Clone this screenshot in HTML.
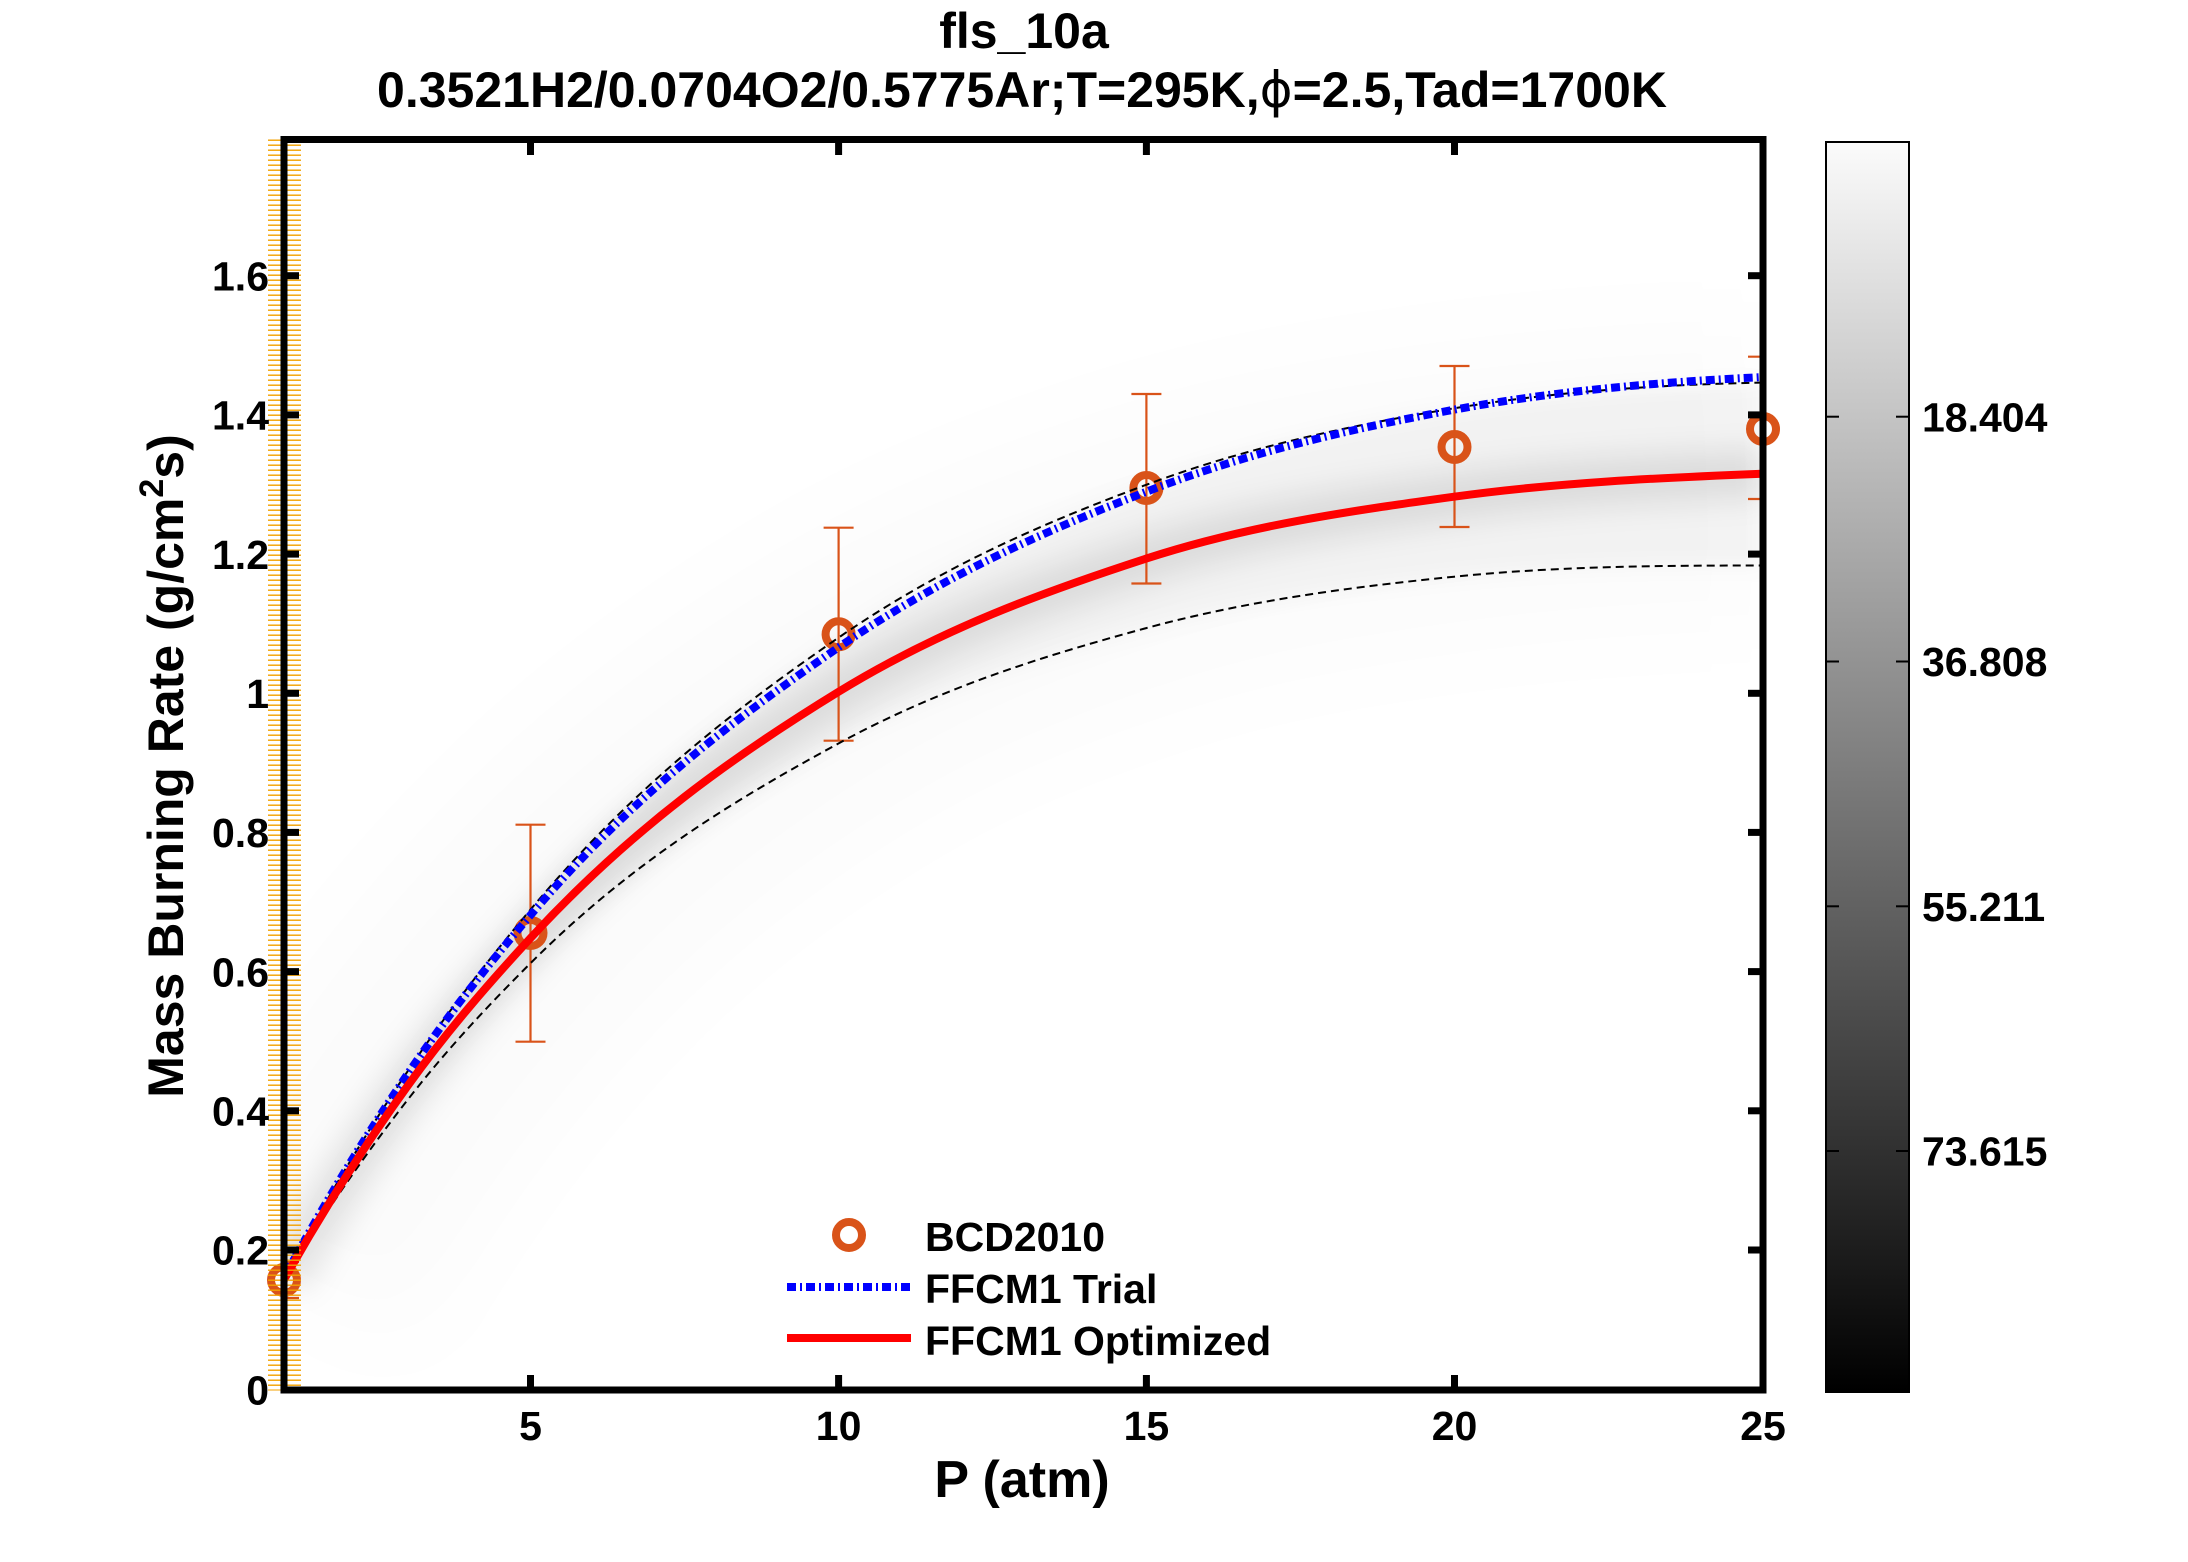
<!DOCTYPE html>
<html>
<head>
<meta charset="utf-8">
<style>
html,body{margin:0;padding:0;background:#fff;}
svg{display:block;}
text{font-family:"Liberation Sans",Arial,sans-serif;font-weight:bold;fill:#000;}
</style>
</head>
<body>
<svg width="2188" height="1562" viewBox="0 0 2188 1562" xmlns="http://www.w3.org/2000/svg">
<defs>
  <clipPath id="plot"><rect x="284" y="139.5" width="1479" height="1250.5"/></clipPath>
  <filter id="b50" filterUnits="userSpaceOnUse" x="0" y="0" width="2188" height="1562"><feGaussianBlur stdDeviation="50"/></filter>
  <filter id="b14" filterUnits="userSpaceOnUse" x="0" y="0" width="2188" height="1562"><feGaussianBlur stdDeviation="14"/></filter>
  <filter id="b10" filterUnits="userSpaceOnUse" x="0" y="0" width="2188" height="1562"><feGaussianBlur stdDeviation="10"/></filter>
  <linearGradient id="cbar" x1="0" y1="0" x2="0" y2="1">
    <stop offset="0" stop-color="#fbfbfb"/>
    <stop offset="1" stop-color="#000000"/>
  </linearGradient>
  <pattern id="hatch" x="0" y="139.5" width="40" height="5" patternUnits="userSpaceOnUse">
    <rect x="0" y="0" width="40" height="1.4" fill="#f3a100"/>
  </pattern>
</defs>

<rect x="0" y="0" width="2188" height="1562" fill="#fff"/>

<!-- Title -->
<text x="1024" y="48" font-size="50" text-anchor="middle">fls_10a</text>
<text x="1022" y="107" font-size="50" text-anchor="middle">0.3521H2/0.0704O2/0.5775Ar;T=295K,<tspan font-weight="normal" font-family="'DejaVu Sans','Liberation Sans',sans-serif">ϕ</tspan>=2.5,Tad=1700K</text>

<!-- Shading -->
<g clip-path="url(#plot)">
  <path d="M284,1279.8 C325.1,1206.7 366.1,1143.5 407.2,1086.5 C448.2,1029.6 489.3,982.8 530.3,938.3 C632.9,827.0 735.6,755 838.2,692 C940.9,629 1043.5,592.0 1146.2,558.6 C1248.8,525.2 1351.5,510.8 1454.1,496.7 C1556.7,482.6 1659.4,477.8 1762,473.7"
        fill="none" stroke="#000" stroke-opacity="0.016" stroke-width="280" filter="url(#b50)"/>
  <path d="M284,1277.7 C325.1,1200.4 366.1,1133.2 407.2,1071.9 C448.2,1010.6 489.3,958.7 530.3,909.8 C632.9,787.4 735.6,708.7 838.2,637.9 C940.9,567.1 1043.5,523.0 1146.2,484.8 C1248.8,446.6 1351.5,425.3 1454.1,408.3 C1556.7,391.3 1659.4,384.7 1762,382.6 L1762,565.5 C1659.4,565.5 1556.7,566.3 1454.1,576.7 C1351.5,587.1 1248.8,600.3 1146.2,628.1 C1043.5,655.9 940.9,687.7 838.2,743.6 C735.6,799.5 632.9,860.9 530.3,963.4 C489.3,1004.4 448.2,1047.7 407.2,1100.4 C366.1,1153.2 325.1,1211.7 284,1279.8 Z"
        fill="#000" fill-opacity="0.035" filter="url(#b10)"/>
  <path d="M284,1279.8 C325.1,1206.7 366.1,1143.5 407.2,1086.5 C448.2,1029.6 489.3,982.8 530.3,938.3 C632.9,827.0 735.6,755 838.2,692 C940.9,629 1043.5,592.0 1146.2,558.6 C1248.8,525.2 1351.5,510.8 1454.1,496.7 C1556.7,482.6 1659.4,477.8 1762,473.7"
        fill="none" stroke="#000" stroke-opacity="0.09" stroke-width="50" filter="url(#b14)"/>
</g>

<!-- Error bars (clipped) -->
<g clip-path="url(#plot)" stroke="#D95319" stroke-width="2.2" fill="none">
  <line x1="284" y1="1262" x2="284" y2="1298"/>
  <line x1="269" y1="1262" x2="299" y2="1262"/>
  <line x1="269" y1="1298" x2="299" y2="1298"/>

  <line x1="530.5" y1="824.7" x2="530.5" y2="1041.7"/>
  <line x1="515.5" y1="824.7" x2="545.5" y2="824.7"/>
  <line x1="515.5" y1="1041.7" x2="545.5" y2="1041.7"/>

  <line x1="838.6" y1="527.7" x2="838.6" y2="740.7"/>
  <line x1="823.6" y1="527.7" x2="853.6" y2="527.7"/>
  <line x1="823.6" y1="740.7" x2="853.6" y2="740.7"/>

  <line x1="1146.4" y1="394" x2="1146.4" y2="583.5"/>
  <line x1="1131.4" y1="394" x2="1161.4" y2="394"/>
  <line x1="1131.4" y1="583.5" x2="1161.4" y2="583.5"/>

  <line x1="1454.5" y1="366" x2="1454.5" y2="527"/>
  <line x1="1439.5" y1="366" x2="1469.5" y2="366"/>
  <line x1="1439.5" y1="527" x2="1469.5" y2="527"/>

  <line x1="1763" y1="356.7" x2="1763" y2="499"/>
  <line x1="1748" y1="356.7" x2="1778" y2="356.7"/>
  <line x1="1748" y1="499" x2="1778" y2="499"/>
</g>

<!-- Data markers -->
<g stroke="#D95319" stroke-width="8" fill="none">
  <circle cx="284" cy="1280" r="13"/>
  <circle cx="530.5" cy="933" r="13"/>
  <circle cx="838.6" cy="634.3" r="13"/>
  <circle cx="1146.4" cy="488" r="13"/>
  <circle cx="1454.5" cy="447" r="13"/>
  <circle cx="1763" cy="429" r="13"/>
</g>

<!-- Dashed bounds -->
<g fill="none" stroke="#000" stroke-width="2" stroke-dasharray="8 5">
  <path d="M284,1277.7 C325.1,1200.4 366.1,1133.2 407.2,1071.9 C448.2,1010.6 489.3,958.7 530.3,909.8 C632.9,787.4 735.6,708.7 838.2,637.9 C940.9,567.1 1043.5,523.0 1146.2,484.8 C1248.8,446.6 1351.5,425.3 1454.1,408.3 C1556.7,391.3 1659.4,384.7 1762,382.6"/>
  <path d="M284,1279.8 C325.1,1211.7 366.1,1153.2 407.2,1100.4 C448.2,1047.7 489.3,1004.4 530.3,963.4 C632.9,860.9 735.6,799.5 838.2,743.6 C940.9,687.7 1043.5,655.9 1146.2,628.1 C1248.8,600.3 1351.5,587.1 1454.1,576.7 C1556.7,566.3 1659.4,565.5 1762,565.5"/>
</g>

<!-- FFCM1 Trial (blue dash-dot) -->
<path d="M284,1277.7 C325.1,1201.6 366.1,1135.0 407.2,1074.6 C448.2,1014.2 489.3,963.5 530.3,915.4 C632.9,795.1 735.6,718.2 838.2,647.6 C940.9,577.0 1043.5,531.5 1146.2,491.8 C1248.8,452.1 1351.5,428.8 1454.1,409.7 C1556.7,390.6 1659.4,382.2 1762,377.1"
      fill="none" stroke="#0000ff" stroke-width="8" stroke-dasharray="9 4 2 4"/>

<!-- FFCM1 Optimized (red) -->
<path d="M284,1279.8 C325.1,1206.7 366.1,1143.5 407.2,1086.5 C448.2,1029.6 489.3,982.8 530.3,938.3 C632.9,827.0 735.6,755 838.2,692 C940.9,629 1043.5,592.0 1146.2,558.6 C1248.8,525.2 1351.5,510.8 1454.1,496.7 C1556.7,482.6 1659.4,477.8 1762,473.7"
      fill="none" stroke="#ff0000" stroke-width="8"/>

<!-- Orange hatch on left axis -->
<rect x="268" y="139.5" width="33" height="1251" fill="url(#hatch)"/>

<!-- Axes box -->
<rect x="284" y="139.5" width="1479" height="1250.5" fill="none" stroke="#000" stroke-width="7"/>

<!-- Ticks -->
<g stroke="#000" stroke-width="7">
  <line x1="284" y1="1250" x2="299" y2="1250"/>
  <line x1="284" y1="1110.8" x2="299" y2="1110.8"/>
  <line x1="284" y1="971.6" x2="299" y2="971.6"/>
  <line x1="284" y1="832.4" x2="299" y2="832.4"/>
  <line x1="284" y1="693.3" x2="299" y2="693.3"/>
  <line x1="284" y1="554.1" x2="299" y2="554.1"/>
  <line x1="284" y1="414.9" x2="299" y2="414.9"/>
  <line x1="284" y1="275.7" x2="299" y2="275.7"/>
  <line x1="1763" y1="1250" x2="1748" y2="1250"/>
  <line x1="1763" y1="1110.8" x2="1748" y2="1110.8"/>
  <line x1="1763" y1="971.6" x2="1748" y2="971.6"/>
  <line x1="1763" y1="832.4" x2="1748" y2="832.4"/>
  <line x1="1763" y1="693.3" x2="1748" y2="693.3"/>
  <line x1="1763" y1="554.1" x2="1748" y2="554.1"/>
  <line x1="1763" y1="414.9" x2="1748" y2="414.9"/>
  <line x1="1763" y1="275.7" x2="1748" y2="275.7"/>
  <line x1="530.5" y1="1390" x2="530.5" y2="1375"/>
  <line x1="838.6" y1="1390" x2="838.6" y2="1375"/>
  <line x1="1146.4" y1="1390" x2="1146.4" y2="1375"/>
  <line x1="1454.5" y1="1390" x2="1454.5" y2="1375"/>
  <line x1="530.5" y1="139.5" x2="530.5" y2="155"/>
  <line x1="838.6" y1="139.5" x2="838.6" y2="155"/>
  <line x1="1146.4" y1="139.5" x2="1146.4" y2="155"/>
  <line x1="1454.5" y1="139.5" x2="1454.5" y2="155"/>
</g>

<!-- Y tick labels -->
<g font-size="41" text-anchor="end">
  <text x="269" y="1404.7">0</text>
  <text x="269" y="1264.7">0.2</text>
  <text x="269" y="1125.5">0.4</text>
  <text x="269" y="986.3">0.6</text>
  <text x="269" y="847.1">0.8</text>
  <text x="269" y="708">1</text>
  <text x="269" y="568.8">1.2</text>
  <text x="269" y="429.6">1.4</text>
  <text x="269" y="290.4">1.6</text>
</g>

<!-- X tick labels -->
<g font-size="41" text-anchor="middle">
  <text x="530.5" y="1440">5</text>
  <text x="838.6" y="1440">10</text>
  <text x="1146.4" y="1440">15</text>
  <text x="1454.5" y="1440">20</text>
  <text x="1763" y="1440">25</text>
</g>

<!-- Axis labels -->
<text x="1022" y="1497" font-size="52" text-anchor="middle">P (atm)</text>
<text transform="translate(183,766) rotate(-90)" font-size="50" text-anchor="middle">Mass Burning Rate (g/cm<tspan font-size="34" dy="-20">2</tspan><tspan dy="20">s)</tspan></text>

<!-- Legend -->
<circle cx="849" cy="1235" r="13" fill="none" stroke="#D95319" stroke-width="8"/>
<line x1="787" y1="1287" x2="911" y2="1287" stroke="#0000ff" stroke-width="8" stroke-dasharray="9 4 2 4"/>
<line x1="787" y1="1338" x2="911" y2="1338" stroke="#ff0000" stroke-width="8"/>
<g font-size="41">
  <text x="925" y="1251">BCD2010</text>
  <text x="925" y="1303">FFCM1 Trial</text>
  <text x="925" y="1355">FFCM1 Optimized</text>
</g>

<!-- Colorbar -->
<rect x="1826" y="142" width="83" height="1250" fill="url(#cbar)" stroke="#000" stroke-width="2"/>
<g stroke="#000" stroke-width="2">
  <line x1="1826" y1="416.7" x2="1839" y2="416.7"/>
  <line x1="1896" y1="416.7" x2="1909" y2="416.7"/>
  <line x1="1826" y1="661.5" x2="1839" y2="661.5"/>
  <line x1="1896" y1="661.5" x2="1909" y2="661.5"/>
  <line x1="1826" y1="906.3" x2="1839" y2="906.3"/>
  <line x1="1896" y1="906.3" x2="1909" y2="906.3"/>
  <line x1="1826" y1="1151" x2="1839" y2="1151"/>
  <line x1="1896" y1="1151" x2="1909" y2="1151"/>
</g>
<g font-size="41">
  <text x="1922" y="431.4">18.404</text>
  <text x="1922" y="676.2">36.808</text>
  <text x="1922" y="921">55.211</text>
  <text x="1922" y="1165.7">73.615</text>
</g>
</svg>
</body>
</html>
